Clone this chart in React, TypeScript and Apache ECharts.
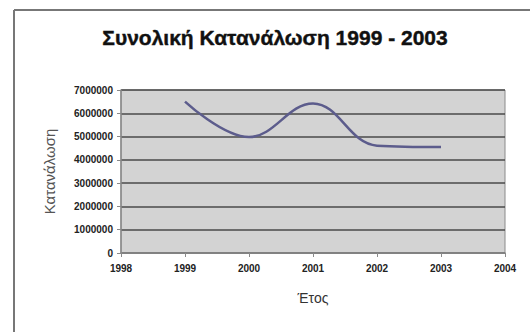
import React, { useEffect, useRef } from "react";
import * as echarts from "echarts";

const years = [1999, 2000, 2001, 2002, 2003];
const consumption = [6500000, 4980000, 6420000, 4610000, 4550000];
const titleText = "Συνολική Κατανάλωση 1999 - 2003";
const yAxisName = "Κατανάλωση";
const xAxisName = "Έτος";

export default function App() {
  const ref = useRef<HTMLDivElement>(null);

  useEffect(() => {
    document.body.style.margin = "0";
    const chart = echarts.init(ref.current!, null, { renderer: "svg" });
    const labelFont = {
      fontFamily: "Liberation Sans, Arial, sans-serif",
      fontWeight: "bold" as const,
      fontSize: 10,
      color: "#222",
    };
    chart.setOption({
      animation: false,
      backgroundColor: "#ffffff",
      title: {
        text: titleText,
        left: 270,
        textAlign: "center",
        top: 22,
        textStyle: {
          fontFamily: "Liberation Sans, Arial, sans-serif",
          fontWeight: "bold",
          fontSize: 21,
          color: "#111",
          textBorderColor: "#111",
          textBorderWidth: 0.4,
        },
      },
      grid: {
        left: 121,
        top: 90,
        right: 25,
        bottom: 79,
        show: true,
        backgroundColor: "#d3d3d3",
        borderColor: "#8a8a8a",
        borderWidth: 1,
      },
      xAxis: {
        type: "value",
        min: 1998,
        max: 2004,
        interval: 1,
        name: xAxisName,
        nameLocation: "middle",
        nameGap: 38,
        nameTextStyle: {
          fontFamily: "Liberation Sans, Arial, sans-serif",
          fontSize: 14,
          color: "#333",
        },
        axisLine: { show: true, lineStyle: { color: "#8a8a8a", width: 1.5 } },
        axisTick: { show: true, length: 4, lineStyle: { color: "#8a8a8a" } },
        axisLabel: { ...labelFont, margin: 10, formatter: (v: number) => String(v) },
        splitLine: { show: false },
      },
      yAxis: {
        type: "value",
        min: 0,
        max: 7000000,
        interval: 1000000,
        name: yAxisName,
        nameLocation: "middle",
        nameGap: 64,
        nameTextStyle: {
          fontFamily: "Liberation Sans, Arial, sans-serif",
          fontSize: 15,
          color: "#555",
        },
        axisLine: { show: true, lineStyle: { color: "#8a8a8a", width: 1.5 } },
        axisTick: { show: true, length: 4, lineStyle: { color: "#8a8a8a" } },
        axisLabel: { ...labelFont, margin: 8, formatter: (v: number) => String(v) },
        splitLine: { show: true, lineStyle: { color: "#4a4a4a", width: 1.5 } },
      },
      series: [
        {
          type: "line",
          data: years.map((y, i) => [y, consumption[i]]),
          smooth: 0.4,
          showSymbol: false,
          lineStyle: { color: "#5c5c8c", width: 2.5 },
        },
      ],
      graphic: [
        {
          type: "line",
          shape: { x1: 14, y1: 10, x2: 530, y2: 10 },
          style: { stroke: "#777", lineWidth: 2 },
        },
        {
          type: "line",
          shape: { x1: 14, y1: 10, x2: 14, y2: 332 },
          style: { stroke: "#777", lineWidth: 2 },
        },
      ],
    });
    return () => chart.dispose();
  }, []);

  return (
    <div
      ref={ref}
      style={{ position: "fixed", left: 0, top: 0, width: 530, height: 332 }}
    />
  );
}
